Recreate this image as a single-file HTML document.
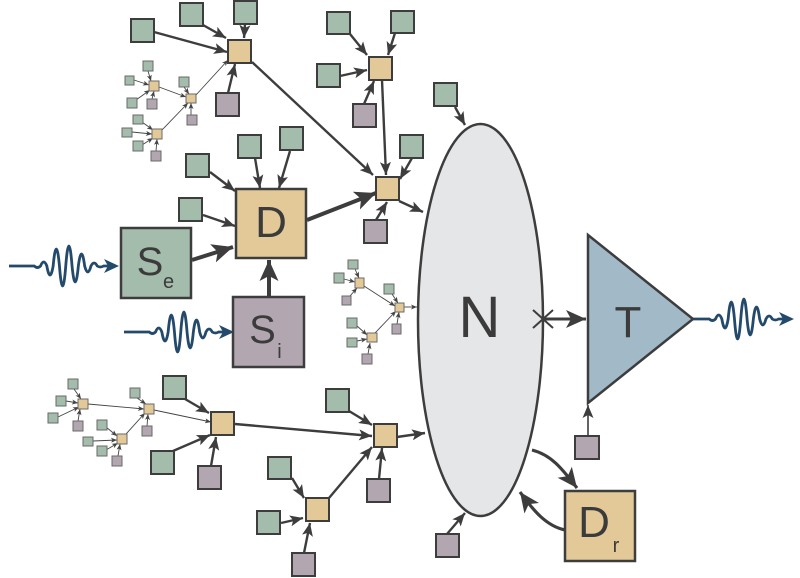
<!DOCTYPE html>
<html>
<head>
<meta charset="utf-8">
<style>
html,body{margin:0;padding:0;background:#fff;}
svg{display:block;}
text{font-family:"Liberation Sans","DejaVu Sans",sans-serif;fill:#3b3b3b;}
</style>
</head>
<body>
<svg width="800" height="578" viewBox="0 0 800 578" xmlns="http://www.w3.org/2000/svg">
<defs>
  <marker id="am" markerUnits="userSpaceOnUse" markerWidth="13" markerHeight="11" refX="13" refY="5.5" orient="auto">
    <path d="M0,0 L13,5.5 L0,11 L3,5.5 z" fill="#3d3d3d"/>
  </marker>
  <marker id="at" markerUnits="userSpaceOnUse" markerWidth="21" markerHeight="19" refX="21" refY="9.5" orient="auto">
    <path d="M0,0 L21,9.5 L0,19 L5,9.5 z" fill="#3d3d3d"/>
  </marker>
  <marker id="as" markerUnits="userSpaceOnUse" markerWidth="6" markerHeight="5" refX="6" refY="2.5" orient="auto">
    <path d="M0,0 L6,2.5 L0,5 L1.5,2.5 z" fill="#444"/>
  </marker>
  <marker id="at2" markerUnits="userSpaceOnUse" markerWidth="20" markerHeight="18" refX="20" refY="9" orient="auto">
    <path d="M0,0 L20,9 L0,18 L5,9 z" fill="#3d3d3d"/>
  </marker>
</defs>

<!-- waves -->
<g fill="none" stroke="#244a6b" stroke-width="2.8">
  <path d="M9,266 L34.25,266 Q37.4,269 40.55,266 Q43.7,258 46.85,266 Q50,284 53.15,266 Q56.3,232 59.45,266 Q62.6,306 65.75,266 Q68.9,226 72.05,266 Q75.2,298 78.35,266 Q81.5,242 84.65,266 Q87.8,278 90.95,266 Q94.1,260 97.25,266 Q100.4,268 103.55,266 L110,266"/>
  <path d="M119,266 L104,259 L108,266 L104,273 z" fill="#244a6b" stroke="none"/>
</g>
<g transform="translate(115,66)" fill="none" stroke="#244a6b" stroke-width="2.8">
  <path d="M9,266 L34.25,266 Q37.4,269 40.55,266 Q43.7,258 46.85,266 Q50,284 53.15,266 Q56.3,232 59.45,266 Q62.6,306 65.75,266 Q68.9,226 72.05,266 Q75.2,298 78.35,266 Q81.5,242 84.65,266 Q87.8,278 90.95,266 Q94.1,260 97.25,266 Q100.4,268 103.55,266 L110,266"/>
  <path d="M119,266 L104,259 L108,266 L104,273 z" fill="#244a6b" stroke="none"/>
</g>
<g transform="translate(675,53)" fill="none" stroke="#244a6b" stroke-width="2.8">
  <path d="M18,266 L34.25,266 Q37.4,269 40.55,266 Q43.7,258 46.85,266 Q50,284 53.15,266 Q56.3,232 59.45,266 Q62.6,306 65.75,266 Q68.9,226 72.05,266 Q75.2,298 78.35,266 Q81.5,242 84.65,266 Q87.8,278 90.95,266 Q94.1,260 97.25,266 Q100.4,268 103.55,266 L110,266"/>
  <path d="M119,266 L104,259 L108,266 L104,273 z" fill="#244a6b" stroke="none"/>
</g>

<!-- ellipse N -->
<ellipse cx="480.5" cy="320" rx="62.5" ry="196" fill="#e5e6e8" stroke="#3d3d3d" stroke-width="2.5"/>
<text x="479.5" y="337" font-size="58" text-anchor="middle">N</text>

<!-- triangle T -->
<polygon points="588,235 693,319 588,403" fill="#a2bac8" stroke="#3d3d3d" stroke-width="2.5" stroke-linejoin="miter"/>
<text x="628" y="337" font-size="44" text-anchor="middle">T</text>

<!-- X mark and arrow to T -->
<g stroke="#3d3d3d" stroke-width="2">
  <line x1="533" y1="310" x2="553" y2="328"/>
  <line x1="533" y1="328" x2="553" y2="310"/>
</g>
<line x1="543" y1="319" x2="586" y2="319" stroke="#3d3d3d" stroke-width="3" marker-end="url(#at2)"/>

<!-- medium arrows -->
<g stroke="#3d3d3d" stroke-width="2.4" fill="none" marker-end="url(#am)">
  <line x1="154" y1="32" x2="227" y2="52"/>
  <line x1="203" y1="25" x2="226" y2="38"/>
  <line x1="245" y1="24" x2="244" y2="38"/>
  <line x1="228" y1="93" x2="235" y2="64"/>
  <line x1="252" y1="62" x2="373" y2="175"/>
  <line x1="350" y1="34" x2="367" y2="55"/>
  <line x1="395" y1="33" x2="388" y2="55"/>
  <line x1="340" y1="76" x2="367" y2="70"/>
  <line x1="364" y1="104" x2="374" y2="81"/>
  <line x1="382" y1="80" x2="386" y2="175"/>
  <line x1="412" y1="158" x2="400" y2="179"/>
  <line x1="376" y1="220" x2="387" y2="202"/>
  <line x1="399" y1="201" x2="423" y2="212"/>
  <line x1="455" y1="107" x2="465" y2="125"/>
  <line x1="290" y1="151" x2="279" y2="188"/>
  <line x1="255" y1="158" x2="260" y2="188"/>
  <line x1="210" y1="172" x2="235" y2="191"/>
  <line x1="203" y1="215" x2="235" y2="226"/>
  <line x1="185" y1="399" x2="209" y2="413"/>
  <line x1="173" y1="451" x2="210" y2="435"/>
  <line x1="211" y1="466" x2="216" y2="437"/>
  <line x1="235" y1="424" x2="372" y2="436"/>
  <line x1="349" y1="411" x2="372" y2="425"/>
  <line x1="379" y1="479" x2="382" y2="448"/>
  <line x1="329" y1="498" x2="372" y2="447"/>
  <line x1="397" y1="437" x2="425" y2="433"/>
  <line x1="292" y1="478" x2="304" y2="498"/>
  <line x1="281" y1="523" x2="303" y2="518"/>
  <line x1="304" y1="553" x2="310" y2="523"/>
  <line x1="447" y1="534" x2="465" y2="513"/>
</g>
<line x1="588" y1="436" x2="588" y2="405" stroke="#3d3d3d" stroke-width="1.6" marker-end="url(#am)"/>

<!-- thick arrows -->
<g stroke="#3d3d3d" stroke-width="4" fill="none" marker-end="url(#at)">
  <line x1="192" y1="260" x2="233" y2="247"/>
  <line x1="269" y1="297" x2="269" y2="260"/>
  <line x1="307" y1="220" x2="376" y2="193"/>
</g>
<g stroke="#3d3d3d" stroke-width="3.2" fill="none" marker-end="url(#at2)">
  <path d="M532,450 C552,455 563,470 577,488"/>
  <path d="M565,530 C546,526 533,510 520,492"/>
</g>

<!-- small thin arrows -->
<g stroke="#444" stroke-width="0.9" fill="none" marker-end="url(#as)">
  <line x1="148" y1="71" x2="151" y2="81"/>
  <line x1="134" y1="80" x2="149" y2="85"/>
  <line x1="136" y1="100" x2="150" y2="90"/>
  <line x1="152" y1="99" x2="154" y2="91"/>
  <line x1="159" y1="87" x2="186" y2="97"/>
  <line x1="184" y1="87" x2="189" y2="94"/>
  <line x1="191" y1="115" x2="191" y2="103"/>
  <line x1="162" y1="130" x2="188" y2="103"/>
  <line x1="142" y1="122" x2="153" y2="130"/>
  <line x1="132" y1="132" x2="152" y2="134"/>
  <line x1="142" y1="145" x2="153" y2="138"/>
  <line x1="156" y1="151" x2="157" y2="139"/>
  <line x1="196" y1="95" x2="228" y2="60"/>
  <line x1="74" y1="389" x2="81" y2="399"/>
  <line x1="66" y1="401" x2="78" y2="403"/>
  <line x1="58" y1="417" x2="79" y2="407"/>
  <line x1="78" y1="421" x2="80" y2="409"/>
  <line x1="88" y1="404" x2="144" y2="409"/>
  <line x1="137" y1="398" x2="146" y2="404"/>
  <line x1="147" y1="426" x2="148" y2="414"/>
  <line x1="126" y1="434" x2="145" y2="413"/>
  <line x1="106" y1="427" x2="117" y2="436"/>
  <line x1="93" y1="441" x2="117" y2="440"/>
  <line x1="106" y1="450" x2="118" y2="443"/>
  <line x1="118" y1="456" x2="120" y2="444"/>
  <line x1="154" y1="410" x2="211" y2="422"/>
  <line x1="355" y1="269" x2="359" y2="278"/>
  <line x1="344" y1="279" x2="355" y2="282"/>
  <line x1="350" y1="296" x2="357" y2="288"/>
  <line x1="364" y1="286" x2="395" y2="306"/>
  <line x1="392" y1="294" x2="398" y2="303"/>
  <line x1="397" y1="324" x2="399" y2="312"/>
  <line x1="375" y1="333" x2="396" y2="311"/>
  <line x1="356" y1="325" x2="367" y2="335"/>
  <line x1="357" y1="341" x2="367" y2="339"/>
  <line x1="368" y1="354" x2="370" y2="343"/>
  <line x1="404" y1="307" x2="417" y2="307"/>
</g>

<!-- medium boxes -->
<g stroke="#3d3d3d" stroke-width="2">
  <g fill="#a3bcab">
    <rect x="131" y="19" width="23" height="23"/>
    <rect x="180" y="3" width="23" height="23"/>
    <rect x="234" y="1" width="23" height="23"/>
    <rect x="327" y="12" width="23" height="22"/>
    <rect x="391" y="11" width="23" height="22"/>
    <rect x="317" y="64" width="23" height="23"/>
    <rect x="434" y="83" width="23" height="23"/>
    <rect x="400" y="135" width="23" height="23"/>
    <rect x="280" y="127" width="23" height="23"/>
    <rect x="238" y="135" width="23" height="23"/>
    <rect x="186" y="154" width="23" height="23"/>
    <rect x="179" y="198" width="23" height="23"/>
    <rect x="163" y="376" width="23" height="23"/>
    <rect x="151" y="451" width="23" height="23"/>
    <rect x="326" y="389" width="23" height="23"/>
    <rect x="268" y="457" width="23" height="22"/>
    <rect x="257" y="511" width="23" height="23"/>
  </g>
  <g fill="#e2c997">
    <rect x="228" y="40" width="23" height="23"/>
    <rect x="369" y="57" width="23" height="23"/>
    <rect x="376" y="177" width="23" height="23"/>
    <rect x="211" y="412" width="23" height="23"/>
    <rect x="374" y="424" width="23" height="23"/>
    <rect x="306" y="498" width="23" height="23"/>
  </g>
  <g fill="#b2a7b1">
    <rect x="216" y="93" width="23" height="23"/>
    <rect x="353" y="104" width="23" height="23"/>
    <rect x="364" y="220" width="23" height="23"/>
    <rect x="575" y="436" width="24" height="23"/>
    <rect x="198" y="466" width="23" height="23"/>
    <rect x="367" y="479" width="23" height="23"/>
    <rect x="292" y="553" width="23" height="23"/>
    <rect x="436" y="534" width="23" height="23"/>
  </g>
</g>

<!-- small boxes -->
<g stroke="#6a6a6a" stroke-width="1">
  <g fill="#a3bcab">
    <rect x="143" y="61" width="10" height="10"/>
    <rect x="125" y="76" width="9" height="9"/>
    <rect x="127" y="98" width="10" height="10"/>
    <rect x="179" y="77" width="10" height="10"/>
    <rect x="133" y="115" width="10" height="9"/>
    <rect x="122" y="128" width="10" height="9"/>
    <rect x="133" y="141" width="10" height="10"/>
    <rect x="68" y="379" width="10" height="10"/>
    <rect x="56" y="396" width="10" height="10"/>
    <rect x="48" y="413" width="10" height="10"/>
    <rect x="130" y="388" width="10" height="10"/>
    <rect x="97" y="420" width="10" height="10"/>
    <rect x="83" y="437" width="10" height="9"/>
    <rect x="97" y="446" width="10" height="10"/>
    <rect x="348" y="260" width="10" height="9"/>
    <rect x="334" y="273" width="10" height="10"/>
    <rect x="384" y="284" width="10" height="10"/>
    <rect x="347" y="318" width="10" height="10"/>
    <rect x="347" y="338" width="10" height="9"/>
  </g>
  <g fill="#e2c997">
    <rect x="149" y="81" width="10" height="10"/>
    <rect x="186" y="94" width="10" height="9"/>
    <rect x="152" y="129" width="10" height="10"/>
    <rect x="78" y="399" width="10" height="10"/>
    <rect x="144" y="404" width="10" height="10"/>
    <rect x="117" y="434" width="10" height="10"/>
    <rect x="355" y="278" width="9" height="10"/>
    <rect x="395" y="303" width="9" height="9"/>
    <rect x="367" y="333" width="10" height="9"/>
  </g>
  <g fill="#b2a7b1">
    <rect x="147" y="99" width="10" height="10"/>
    <rect x="187" y="115" width="10" height="10"/>
    <rect x="151" y="151" width="10" height="10"/>
    <rect x="73" y="421" width="10" height="10"/>
    <rect x="142" y="426" width="10" height="10"/>
    <rect x="112" y="456" width="10" height="10"/>
    <rect x="342" y="296" width="9" height="9"/>
    <rect x="392" y="324" width="9" height="10"/>
    <rect x="362" y="354" width="10" height="10"/>
  </g>
</g>

<!-- big boxes -->
<g stroke="#3d3d3d" stroke-width="2.5">
  <rect x="236" y="189" width="70" height="69" fill="#e2c997"/>
  <rect x="121" y="228" width="70" height="70" fill="#a3bcab"/>
  <rect x="233" y="297" width="71" height="70" fill="#b2a7b1"/>
  <rect x="565" y="491" width="70" height="70" fill="#e2c997"/>
</g>
<text x="271" y="237" font-size="44" text-anchor="middle">D</text>
<text x="150" y="275" font-size="40" text-anchor="middle">S</text>
<text x="168.5" y="288" font-size="20" text-anchor="middle">e</text>
<text x="262.5" y="343" font-size="40" text-anchor="middle">S</text>
<text x="279.5" y="358" font-size="20" text-anchor="middle">i</text>
<text x="594" y="537" font-size="44" text-anchor="middle">D</text>
<text x="616" y="552" font-size="20" text-anchor="middle">r</text>
</svg>
</body>
</html>
